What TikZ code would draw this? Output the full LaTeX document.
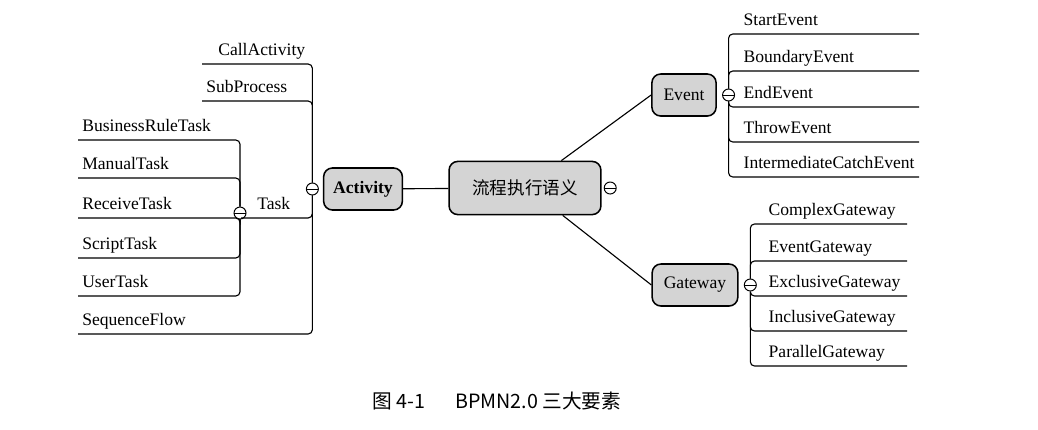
\documentclass[tikz,border=0pt]{standalone}
\usepackage{fontspec}
\setmainfont{Liberation Serif}
\newfontfamily\cjk{Noto Sans CJK SC}
\usetikzlibrary{positioning}
\hyphenpenalty=10000

\tikzset{
  topic/.style={draw, line width=1.1pt, rounded corners=0.22cm, fill=black!17,
    minimum height=1.05cm, inner xsep=0.29cm, font=\fontsize{12.5}{15}\selectfont},
  fold/.style={circle, draw, line width=0.7pt, fill=white, minimum size=0.3cm, inner sep=0pt,
    path picture={\draw[line width=0.7pt] (path picture bounding box.west) -- (path picture bounding box.east);}},
  branch/.style={line width=0.8pt, rounded corners=3pt},
  leaf/.style={anchor=south west, inner xsep=0.1cm, inner ysep=3.5pt, text depth=2pt,
    font=\fontsize{12.5}{15}\selectfont},
  rleaf/.style={leaf, anchor=south east, inner xsep=0.05cm, align=left},
}

\begin{document}
\begin{tikzpicture}[x=0.025cm, y=-0.025cm]
\useasboundingbox (0,0) rectangle (1038,429);

% central topic and the three main branches
\node[topic, font=\cjk\fontsize{12.5}{15}\selectfont, inner xsep=0.58cm, minimum height=1.33cm] (bpmn) at (525,188) {流程执行语义};
\node[topic, inner xsep=0.24cm, font=\bfseries\fontsize{12.5}{15}\selectfont] (activity) at (363,189) {Activity};
\node[topic] (event) at (684,95) {Event};
\node[topic] (gateway) at (695,285) {Gateway};

\node[fold, right=0.05cm of bpmn] (bpmnfold) {};
\node[fold, left=0.1cm of activity] (activityfold) {};
\node[fold, right=0.13cm of event] (eventfold) {};
\node[fold, right=0.13cm of gateway] (gatewayfold) {};

\draw[branch] (bpmn) -- (activity);
\draw[branch] (bpmn.37) -- (event.west);
\draw[branch] (bpmn.-36) -- (gateway.west);

% Activity side
\node[leaf, inner xsep=0.4cm] (callactivity) at (202,64) {CallActivity};
\node[leaf] (subprocess) at (202,101) {SubProcess};
\node[leaf, inner xsep=0.4cm] (task) at (241,218) {Task};
\node[leaf] (sequenceflow) at (78,334) {SequenceFlow};
\node[fold] (taskfold) at (240,213) {};

\foreach \name/\y/\txt in {businessruletask/140/BusinessRuleTask, manualtask/178/ManualTask,
    receivetask/218/ReceiveTask, scripttask/258/ScriptTask, usertask/296/UserTask}
  \node[leaf] (\name) at (78,\y) {\txt};

\foreach \to in {callactivity, subprocess, task, sequenceflow}
  \draw[branch] (activityfold) |- (\to.south west);
\foreach \to in {businessruletask, manualtask, receivetask, scripttask, usertask}
  \draw[branch] (taskfold) |- (\to.south west);

% Event side
\foreach \name/\y/\txt in {startevent/34/StartEvent, boundaryevent/71/BoundaryEvent, endevent/107/EndEvent,
    throwevent/142/ThrowEvent, intermediatecatchevent/177/IntermediateCatchEvent}
  \node[rleaf, text width=4.325cm] (\name) at (919,\y) {\txt};
\foreach \to in {startevent, boundaryevent, endevent, throwevent, intermediatecatchevent}
  \draw[branch] (eventfold) |- (\to.south east);

% Gateway side
\foreach \name/\y/\txt in {complexgateway/224/ComplexGateway, eventgateway/261/EventGateway,
    exclusivegateway/296/ExclusiveGateway, inclusivegateway/331/InclusiveGateway, parallelgateway/366/ParallelGateway}
  \node[rleaf, text width=3.4cm] (\name) at (907,\y) {\txt};
\foreach \to in {complexgateway, eventgateway, exclusivegateway, inclusivegateway, parallelgateway}
  \draw[branch] (gatewayfold) |- (\to.south east);

\node[font=\cjk\fontsize{14}{16}\selectfont] (caption) at (497,401) {图 4-1\hspace{21pt}BPMN2.0 三大要素};
\end{tikzpicture}
\end{document}
